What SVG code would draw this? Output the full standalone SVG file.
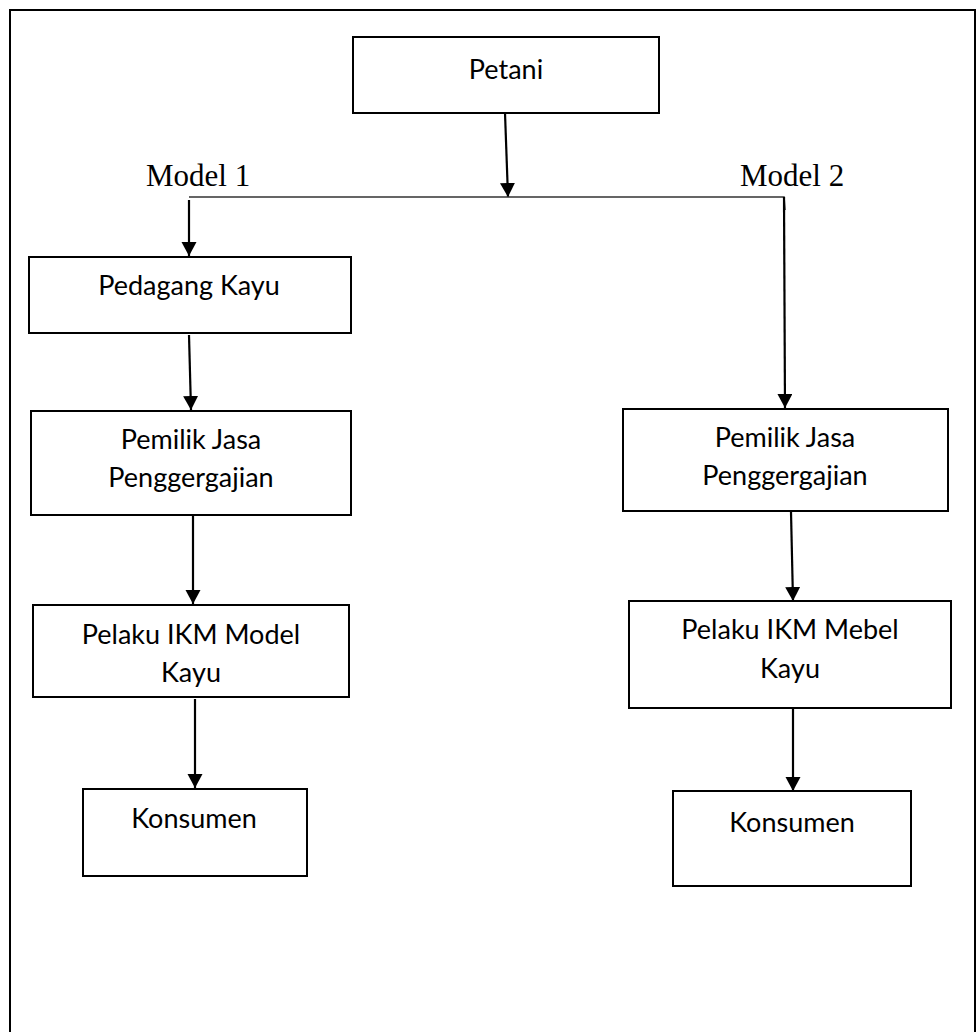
<svg xmlns="http://www.w3.org/2000/svg" width="976" height="1032" viewBox="0 0 976 1032">
<defs>
<style>
.box{fill:#fff;stroke:#000;stroke-width:2}
.t{font-family:Lato,"Liberation Sans",sans-serif;font-size:27px;fill:#000;text-anchor:middle}
.m{font-family:"Liberation Serif",serif;font-size:31px;fill:#000}
.c{fill:none;stroke:#000;stroke-width:2.2}
.h{fill:none;stroke:#333;stroke-width:1.6}
</style>
<marker id="ah" markerUnits="userSpaceOnUse" markerWidth="16" markerHeight="16" refX="14" refY="7.5" orient="auto" viewBox="0 0 16 16">
<path d="M0,0 L14,7.5 L0,15 z" fill="#000"/>
</marker>
</defs>
<rect x="0" y="0" width="976" height="1032" fill="#fff"/>
<rect id="frame" x="10" y="10" width="965" height="1040" fill="none" stroke="#000" stroke-width="2"/>

<g id="connectors">
<line class="c" x1="505" y1="113" x2="508" y2="197" marker-end="url(#ah)"/>
<polyline class="h" points="189,197 784,197 785,210"/>
<line class="c" x1="189" y1="200" x2="189" y2="256" marker-end="url(#ah)"/>
<line class="c" x1="784" y1="197" x2="785" y2="408" marker-end="url(#ah)"/>
<line class="c" x1="189" y1="335" x2="191" y2="410" marker-end="url(#ah)"/>
<line class="c" x1="193" y1="516" x2="193" y2="604" marker-end="url(#ah)"/>
<line class="c" x1="195" y1="699" x2="195" y2="788" marker-end="url(#ah)"/>
<line class="c" x1="791" y1="512" x2="793" y2="601" marker-end="url(#ah)"/>
<line class="c" x1="793" y1="709" x2="793" y2="791" marker-end="url(#ah)"/>
</g>

<g id="label-model1"><text class="m" x="146" y="186">Model 1</text></g>
<g id="label-model2"><text class="m" x="740" y="186">Model 2</text></g>

<g id="node-petani">
<rect class="box" x="353" y="37" width="306" height="76"/>
<text class="t" x="506" y="79">Petani</text>
</g>
<g id="node-pedagang">
<rect class="box" x="29" y="257" width="322" height="76"/>
<text class="t" x="189" y="295">Pedagang Kayu</text>
</g>
<g id="node-pemilik1">
<rect class="box" x="31" y="411" width="320" height="104"/>
<text class="t" x="191" y="449">Pemilik Jasa</text>
<text class="t" x="191" y="487">Penggergajian</text>
</g>
<g id="node-pelaku1">
<rect class="box" x="33" y="605" width="316" height="92"/>
<text class="t" x="191" y="644">Pelaku IKM Model</text>
<text class="t" x="191" y="682">Kayu</text>
</g>
<g id="node-konsumen1">
<rect class="box" x="83" y="789" width="224" height="87"/>
<text class="t" x="194" y="828">Konsumen</text>
</g>
<g id="node-pemilik2">
<rect class="box" x="623" y="409" width="325" height="102"/>
<text class="t" x="785" y="447">Pemilik Jasa</text>
<text class="t" x="785" y="485">Penggergajian</text>
</g>
<g id="node-pelaku2">
<rect class="box" x="629" y="601" width="322" height="107"/>
<text class="t" x="790" y="639">Pelaku IKM Mebel</text>
<text class="t" x="790" y="678">Kayu</text>
</g>
<g id="node-konsumen2">
<rect class="box" x="673" y="791" width="238" height="95"/>
<text class="t" x="792" y="832">Konsumen</text>
</g>
</svg>
